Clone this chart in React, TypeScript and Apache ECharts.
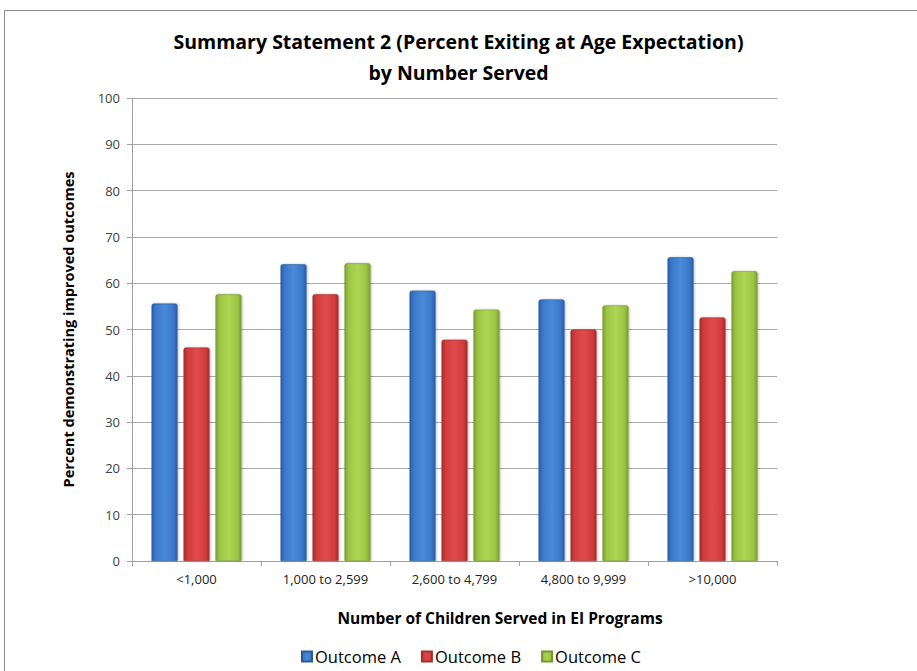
import React, { useEffect, useRef } from "react";
import * as echarts from "echarts";

const categories = ["<1,000", "1,000 to 2,599", "2,600 to 4,799", "4,800 to 9,999", ">10,000"];
const outcomeA = [55.6, 64.1, 58.4, 56.5, 65.6];
const outcomeB = [46.1, 57.6, 47.8, 50.0, 52.6];
const outcomeC = [57.6, 64.3, 54.3, 55.2, 62.6];
const seriesNames = ["Outcome A", "Outcome B", "Outcome C"];
const xAxisTitle = "Number of Children Served in EI Programs";

const FONT = "'Open Sans', 'Noto Sans', sans-serif";

function grad(dark: string, mid: string, light: string) {
  return new echarts.graphic.LinearGradient(0, 0, 1, 0, [
    { offset: 0, color: dark },
    { offset: 0.15, color: mid },
    { offset: 0.5, color: light },
    { offset: 0.85, color: mid },
    { offset: 1, color: dark },
  ]);
}

export default function App() {
  const ref = useRef<HTMLDivElement>(null);
  useEffect(() => {
    if (!ref.current) return;
    const chart = echarts.init(ref.current, null, { renderer: "svg" });
    const colors = [
      { g: grad("#2a5ea8", "#3a78c9", "#4a8ad8"), c: "#3a78c9", b: "#2a5a9c" },
      { g: grad("#a82c2c", "#d13c3c", "#e04a4a"), c: "#d13c3c", b: "#a33030" },
      { g: grad("#7da030", "#9cc545", "#aed655"), c: "#9cc545", b: "#76952f" },
    ];
    const data = [outcomeA, outcomeB, outcomeC];
    chart.setOption({
      animation: false,
      backgroundColor: "#ffffff",
      title: {
        text: "Summary Statement 2 (Percent Exiting at Age Expectation)\nby Number Served",
        left: "center",
        top: 21,
        textStyle: { fontFamily: FONT, fontSize: 19.5, fontWeight: "bold", color: "#000", lineHeight: 31 },
      },
      graphic: [
        {
          type: "rect",
          shape: { x: 4.5, y: 10.5, width: 930, height: 700 },
          style: { fill: "none", stroke: "#8c8c8c", lineWidth: 1 },
          silent: true,
        },
        {
          type: "text",
          x: 500,
          y: 618,
          style: {
            text: xAxisTitle,
            fontFamily: FONT,
            fontSize: 15.5,
            fontWeight: "bold",
            fill: "#000",
            textAlign: "center",
            textVerticalAlign: "middle",
          },
          silent: true,
        },
      ],
      legend: {
        top: 643,
        left: 296,
        itemWidth: 10,
        itemHeight: 10,
        itemGap: 20,
        icon: "rect",
        textStyle: { fontFamily: FONT, fontSize: 16.5, color: "#000", padding: [0, 0, 0, -2] },
        data: seriesNames,
      },
      grid: { left: 132, right: 140, top: 98, bottom: 110, containLabel: false },
      xAxis: {
        type: "category",
        data: categories,
        axisLine: { lineStyle: { color: "#a0a0a0" } },
        axisTick: { show: true, length: 5, lineStyle: { color: "#a0a0a0" } },
        axisLabel: { fontFamily: FONT, fontSize: 13, color: "#222", margin: 11 },
      },
      yAxis: {
        type: "value",
        min: 0,
        max: 100,
        interval: 10,
        name: "Percent demonstrating improved outcomes",
        nameLocation: "middle",
        nameGap: 56,
        nameTextStyle: { fontFamily: FONT, fontSize: 14.5, fontWeight: "bold", color: "#000" },
        axisLine: { show: true, lineStyle: { color: "#a0a0a0" } },
        axisTick: { show: true, length: 5, inside: false, lineStyle: { color: "#a0a0a0" } },
        axisLabel: { fontFamily: FONT, fontSize: 13, color: "#404040", margin: 12 },
        splitLine: { lineStyle: { color: "#a8a8a8", width: 1 } },
      },
      series: seriesNames.map((name, i) => ({
        name,
        type: "bar",
        data: data[i],
        barWidth: 26,
        barGap: "23%",
        itemStyle: {
          color: colors[i].g,
          borderColor: colors[i].b,
          borderWidth: 0.6,
          borderRadius: [2, 2, 0, 0],
          shadowColor: "rgba(0,0,0,0.25)",
          shadowBlur: 2,
          shadowOffsetX: 1,
        },
      })),
      color: colors.map((c) => c.c),
    });
    return () => chart.dispose();
  }, []);
  return (
    <div
      ref={ref}
      style={{ position: "fixed", left: 0, top: 0, width: 917, height: 671, background: "#fff" }}
    />
  );
}
